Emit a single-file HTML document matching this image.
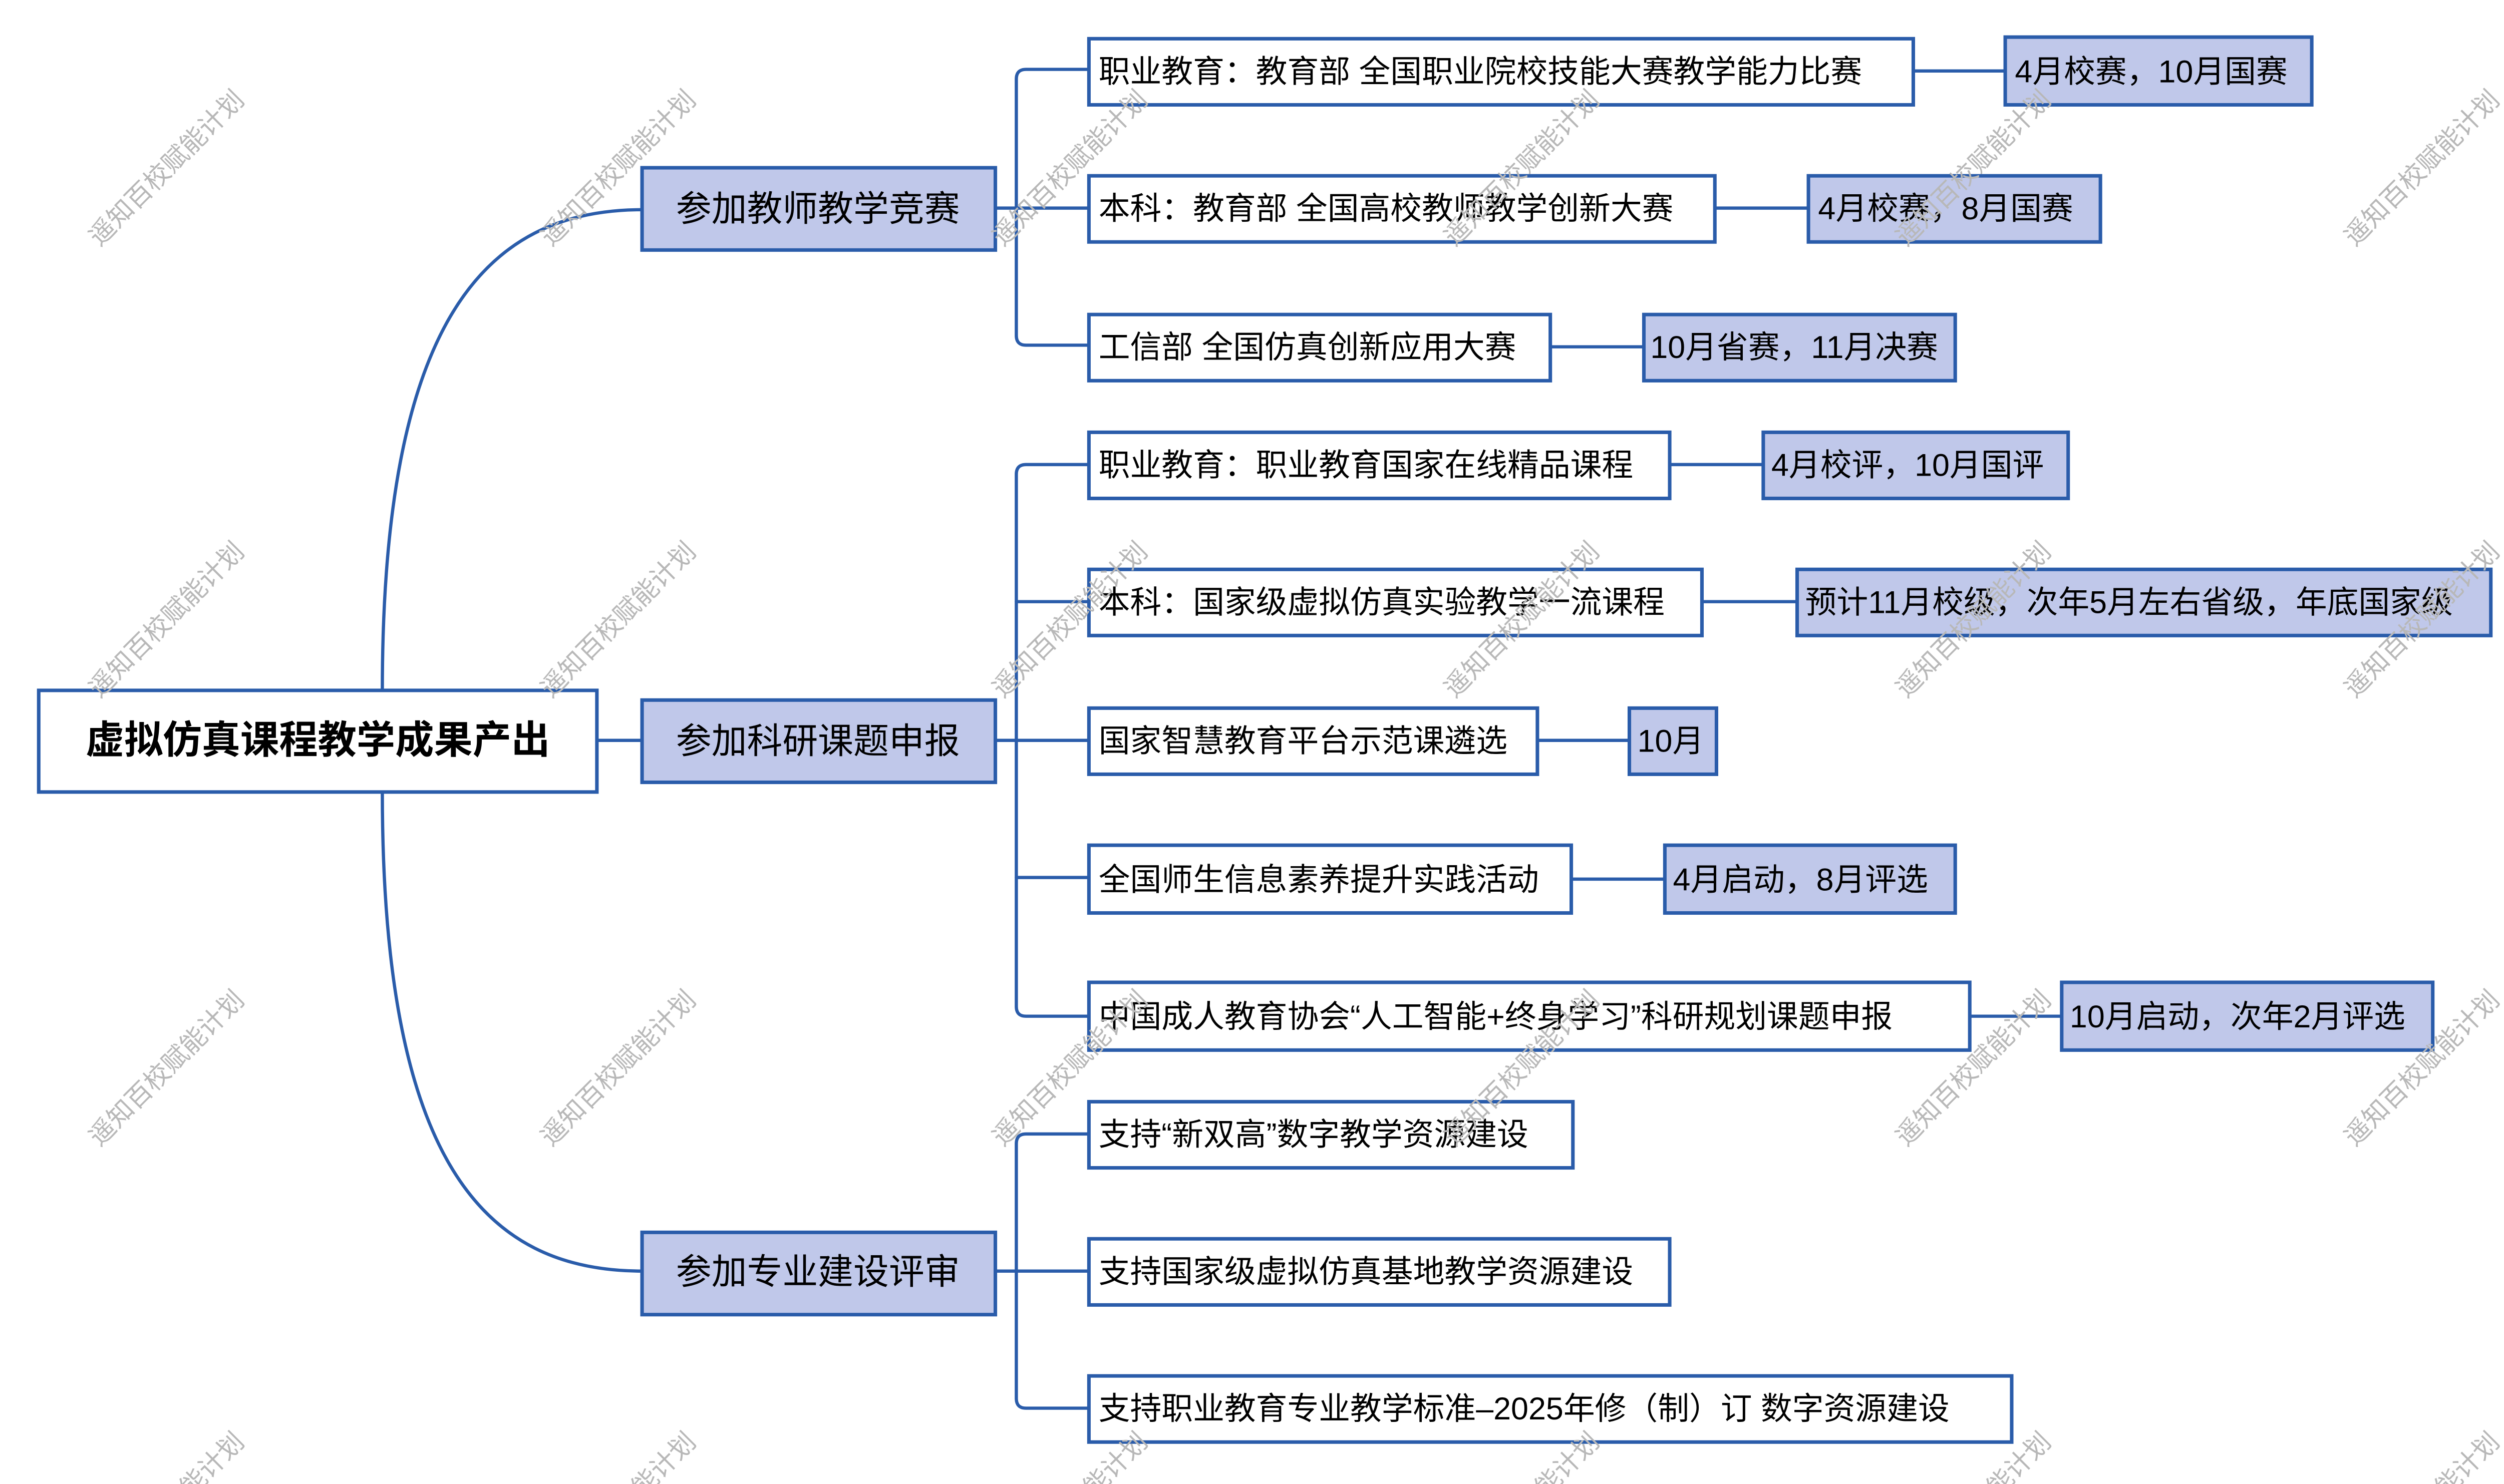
<!DOCTYPE html>
<html><head><meta charset="utf-8"><style>
html,body{margin:0;padding:0;background:#fff;width:5051px;height:2964px;overflow:hidden;}
svg{display:block;overflow:hidden;}
text{font-family:"Liberation Sans","Noto Sans CJK SC",sans-serif;}
</style></head><body>
<svg width="5051" height="2964" viewBox="0 0 1568 920" preserveAspectRatio="none" xmlns="http://www.w3.org/2000/svg">
<g fill="none" stroke="#2a5caa" stroke-width="2" stroke-linecap="round">
<path d="M237,428 C237,200 300,130 398,130"/>
<path d="M237,491 C237,720 300,788 398,788"/>
<line x1="370" y1="459" x2="398" y2="459"/>
<path d="M617,129 H630"/>
<path d="M675,43 H636 Q630,43 630,49 V208 Q630,214 636,214 H675"/>
<path d="M630,129 H675"/>
<path d="M617,459 H630"/>
<path d="M675,288 H636 Q630,288 630,294 V624 Q630,630 636,630 H675"/>
<path d="M630,373 H675 M630,459 H675 M630,544 H675"/>
<path d="M617,788 H630"/>
<path d="M675,703 H636 Q630,703 630,709 V867 Q630,873 636,873 H675"/>
<path d="M630,788 H675"/>
<path d="M1186,44 H1243 M1063,129 H1121 M961,215 H1019 M1035,288 H1093 M1055,373 H1114 M953,459 H1010 M974,545 H1032 M1221,630 H1278"/>
</g>
<g stroke="#2a5caa" stroke-width="2.2">
<rect x="24" y="428" width="346" height="63" fill="#fff"/>
<rect x="398" y="104" width="219" height="51" fill="#c0c8ea"/>
<rect x="398" y="434" width="219" height="51" fill="#c0c8ea"/>
<rect x="398" y="764" width="219" height="51" fill="#c0c8ea"/>
<g fill="#fff">
<rect x="675" y="24" width="511" height="41"/>
<rect x="675" y="109" width="388" height="41"/>
<rect x="675" y="195" width="286" height="41"/>
<rect x="675" y="268" width="360" height="41"/>
<rect x="675" y="353" width="380" height="41"/>
<rect x="675" y="439" width="278" height="41"/>
<rect x="675" y="524" width="299" height="42"/>
<rect x="675" y="609" width="546" height="42"/>
<rect x="675" y="683" width="300" height="41"/>
<rect x="675" y="768" width="360" height="41"/>
<rect x="675" y="853" width="572" height="41"/>
</g>
<g fill="#c0c8ea">
<rect x="1243" y="23" width="190" height="42"/>
<rect x="1121" y="109" width="181" height="41"/>
<rect x="1019" y="195" width="193" height="41"/>
<rect x="1093" y="268" width="189" height="41"/>
<rect x="1114" y="353" width="430" height="41"/>
<rect x="1010" y="439" width="54" height="41"/>
<rect x="1032" y="524" width="180" height="42"/>
<rect x="1278" y="609" width="230" height="42"/>
</g>
</g>
<g fill="#000">
<text x="197" y="467" font-size="24" font-weight="bold" text-anchor="middle">虚拟仿真课程教学成果产出</text>
<g font-size="22" text-anchor="middle">
<text x="507" y="137">参加教师教学竞赛</text>
<text x="507" y="467">参加科研课题申报</text>
<text x="507" y="796">参加专业建设评审</text>
</g>
<g font-size="19.5">
<text x="681" y="51">职业教育：教育部 全国职业院校技能大赛教学能力比赛</text>
<text x="681" y="136">本科：教育部 全国高校教师教学创新大赛</text>
<text x="681" y="222">工信部 全国仿真创新应用大赛</text>
<text x="681" y="295">职业教育：职业教育国家在线精品课程</text>
<text x="681" y="380">本科：国家级虚拟仿真实验教学一流课程</text>
<text x="681" y="466">国家智慧教育平台示范课遴选</text>
<text x="681" y="552">全国师生信息素养提升实践活动</text>
<text x="681" y="637">中国成人教育协会“人工智能+终身学习”科研规划课题申报</text>
<text x="681" y="710">支持“新双高”数字教学资源建设</text>
<text x="681" y="795">支持国家级虚拟仿真基地教学资源建设</text>
<text x="681" y="880">支持职业教育专业教学标准–2025年修（制）订 数字资源建设</text>
<text x="1249" y="51">4月校赛，10月国赛</text>
<text x="1127" y="136">4月校赛，8月国赛</text>
<text x="1023" y="222">10月省赛，11月决赛</text>
<text x="1098" y="295">4月校评，10月国评</text>
<text x="1119" y="380">预计11月校级，次年5月左右省级，年底国家级</text>
<text x="1015" y="466">10月</text>
<text x="1037" y="552">4月启动，8月评选</text>
<text x="1283" y="637">10月启动，次年2月评选</text>
</g>
</g>
<g fill="#b8b8b8" font-size="16" text-anchor="middle">
<text transform="translate(107,108) rotate(-45)">遥知百校赋能计划</text>
<text transform="translate(387,108) rotate(-45)">遥知百校赋能计划</text>
<text transform="translate(667,108) rotate(-45)">遥知百校赋能计划</text>
<text transform="translate(947,108) rotate(-45)">遥知百校赋能计划</text>
<text transform="translate(1227,108) rotate(-45)">遥知百校赋能计划</text>
<text transform="translate(1505,108) rotate(-45)">遥知百校赋能计划</text>
<text transform="translate(107,388) rotate(-45)">遥知百校赋能计划</text>
<text transform="translate(387,388) rotate(-45)">遥知百校赋能计划</text>
<text transform="translate(667,388) rotate(-45)">遥知百校赋能计划</text>
<text transform="translate(947,388) rotate(-45)">遥知百校赋能计划</text>
<text transform="translate(1227,388) rotate(-45)">遥知百校赋能计划</text>
<text transform="translate(1505,388) rotate(-45)">遥知百校赋能计划</text>
<text transform="translate(107,666) rotate(-45)">遥知百校赋能计划</text>
<text transform="translate(387,666) rotate(-45)">遥知百校赋能计划</text>
<text transform="translate(667,666) rotate(-45)">遥知百校赋能计划</text>
<text transform="translate(947,666) rotate(-45)">遥知百校赋能计划</text>
<text transform="translate(1227,666) rotate(-45)">遥知百校赋能计划</text>
<text transform="translate(1505,666) rotate(-45)">遥知百校赋能计划</text>
<text transform="translate(107,940) rotate(-45)">遥知百校赋能计划</text>
<text transform="translate(387,940) rotate(-45)">遥知百校赋能计划</text>
<text transform="translate(667,940) rotate(-45)">遥知百校赋能计划</text>
<text transform="translate(947,940) rotate(-45)">遥知百校赋能计划</text>
<text transform="translate(1227,940) rotate(-45)">遥知百校赋能计划</text>
<text transform="translate(1505,940) rotate(-45)">遥知百校赋能计划</text>
</g>
</svg>
</body></html>
